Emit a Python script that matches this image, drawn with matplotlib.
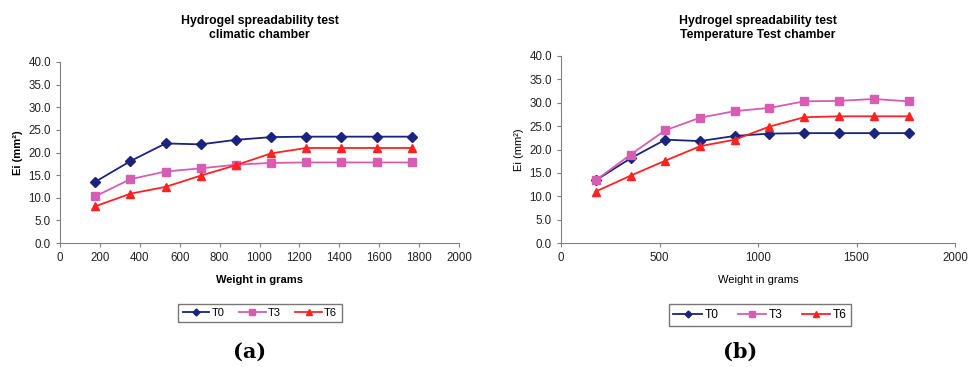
import matplotlib.pyplot as plt

plt.rcParams['font.family'] = ['Liberation Sans', 'DejaVu Sans']

weights = [176, 353, 529, 706, 882, 1058, 1235, 1411, 1588, 1764]

a_t0 = [13.5, 18.1, 22.0, 21.8, 22.8, 23.4, 23.5, 23.5, 23.5, 23.5]
a_t3 = [10.3, 14.1, 15.8, 16.5, 17.3, 17.7, 17.8, 17.8, 17.8, 17.8]
a_t6 = [8.1, 10.9, 12.4, 14.9, 17.2, 19.8, 21.0, 21.0, 21.0, 21.0]

b_t0 = [13.4, 18.1, 22.1, 21.8, 22.9, 23.4, 23.5, 23.5, 23.5, 23.5]
b_t3 = [13.4, 18.9, 24.1, 26.8, 28.2, 28.9, 30.3, 30.4, 30.8, 30.3]
b_t6 = [11.0, 14.4, 17.6, 20.7, 22.1, 24.9, 26.9, 27.1, 27.1, 27.1]

titles = ['Hydrogel spreadability test\nclimatic chamber',
          'Hydrogel spreadability test\nTemperature Test chamber']
panel_labels = ['a', 'b']

fig = plt.figure(figsize=(9.68, 3.67), dpi=100)
W, H = 968, 367

# axes boxes in pixels: left, top, right, bottom
boxes = [(60, 62, 459, 243), (561, 56, 955, 243)]
legend_pos = [(260, 313), (760, 315)]
legend_fs = [8, 8.6]
legend_cs = [1.3, 1.6]
series = [(a_t0, a_t3, a_t6), (b_t0, b_t3, b_t6)]
xticks = [list(range(0, 2001, 200)), list(range(0, 2001, 500))]
bold = [True, False]

for i in range(2):
    l, t, r, b = boxes[i]
    ax = fig.add_axes([l / W, 1 - b / H, (r - l) / W, (b - t) / H])
    t0, t3, t6 = series[i]
    ax.plot(weights, t0, color='#1a237e', marker='D', ms=5, lw=1.3, label='T0')
    ax.plot(weights, t3, color='#d65db1', marker='s', ms=6, lw=1.3, label='T3')
    ax.plot(weights, t6, color='#ff2222', marker='^', ms=6, lw=1.3, label='T6')
    ax.set_xlim(0, 2000)
    ax.set_ylim(0, 40)
    ax.set_xticks(xticks[i])
    ax.set_yticks(range(0, 41, 5))
    ax.set_yticklabels(['%.1f' % v for v in range(0, 41, 5)])
    ax.tick_params(labelsize=8.3, colors='#222222', length=3, color='#808080')
    for s in ['top', 'right']:
        ax.spines[s].set_visible(False)
    for s in ['left', 'bottom']:
        ax.spines[s].set_color('#808080')
    fw = 'bold' if bold[i] else 'normal'
    ax.set_xlabel('Weight in grams', fontsize=8, fontweight=fw, labelpad=8)
    ax.set_ylabel('Ei (mm²)', fontsize=8, fontweight=fw, labelpad=4)
    fig.text((l + r) / 2 / W, 1 - 28 / H, titles[i], ha='center', va='center',
             fontsize=8.8, fontweight='bold', linespacing=1.15)
    lx, ly = legend_pos[i]
    fig.legend(*ax.get_legend_handles_labels(), loc='center',
               bbox_to_anchor=(lx / W, 1 - ly / H), ncol=3,
               fontsize=legend_fs[i], frameon=True, fancybox=False,
               edgecolor='#555555', markerscale=0.7, handlelength=2.4,
               handletextpad=0.2, columnspacing=legend_cs[i], borderpad=0.4)
    fig.text([250, 740][i] / W, 1 - 352 / H, '(' + panel_labels[i] + ')',
             ha='center', va='center', fontsize=15, family='DejaVu Serif',
             fontweight='bold')

fig.savefig('out.png', dpi=100)
